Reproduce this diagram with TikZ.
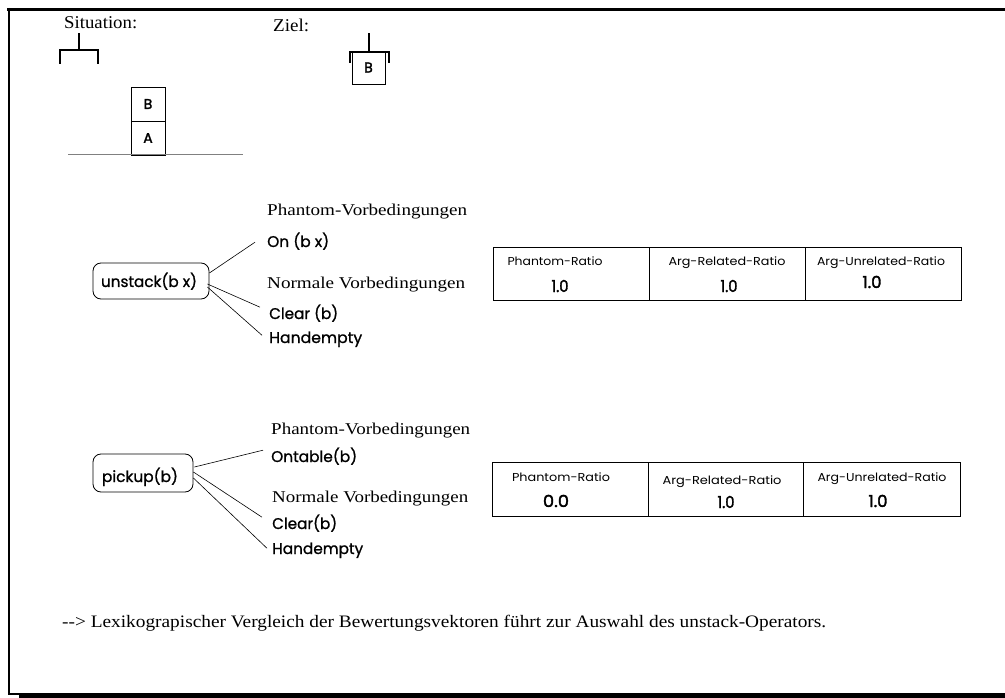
\documentclass[tikz,border=0pt]{standalone}
\usepackage{fontspec}
\usepackage{graphicx}
\setmainfont{Liberation Serif}
\newfontfamily\gothic{Poppins}
\newfontfamily\gothicm{Poppins}[FakeBold=1]
\newfontfamily\gothicb{Poppins}[FakeBold=2]
\usetikzlibrary{calc}
% scale a text horizontally to a given width (in pt), keeping its height
\newcommand\wfit[2]{\resizebox{#1pt}{\height}{#2}}

\begin{document}
\begin{tikzpicture}[x=1pt,y=-1pt,
  serif/.style={inner sep=0pt, anchor=base west, font=\fontsize{16.5}{18}\selectfont},
  title/.style={inner sep=0pt, anchor=base west, font=\fontsize{18}{20}\selectfont},
  cond/.style={inner sep=0pt, anchor=base west, font=\gothicm\fontsize{15.5}{18}\selectfont},
  opbox/.style={draw, rounded corners=8pt, inner sep=0pt, line width=0.8pt},
  optext/.style={inner sep=0pt, anchor=base, font=\gothicm\fontsize{15.5}{18}\selectfont},
  cell/.style={draw, line width=0.8pt, inner sep=0pt},
  head/.style={inner sep=0pt, anchor=base, font=\gothic\fontsize{11.5}{14}\selectfont},
  val/.style={inner sep=0pt, anchor=base, font=\gothicb\fontsize{16.5}{18}\selectfont},
  blk/.style={draw, line width=0.8pt, minimum size=34pt, inner sep=0pt, font=\gothicb\fontsize{14}{15}\selectfont},
  grip/.style={line width=2.2pt},
  link/.style={line width=0.6pt}]

\useasboundingbox (0,0) rectangle (1005,698);

% frame with drop shadow
\draw[line width=3pt] (7,9.5) -- (1005,9.5);
\draw[line width=2.5pt] (9,8) -- (9,695);
\draw[line width=1.5pt] (9,694) -- (20,694);
\fill (19,692.5) rectangle (1005,698);

% ---- situation ----
\node[title] (sit) at (64,29) {\wfit{73}{Situation:}};
\draw[grip] (60,64) -- (60,50) -- (98,50) -- (98,64);
\draw[grip] (79,50) -- (79,33);
\node[blk] (sb) at (148,104) {B};
\node[blk] (sa) at (148,138) {A};
\draw[gray, line width=1pt] (68,155) -- (243,155);

% ---- goal ----
\node[title] (goal) at (273,32) {\wfit{36}{Ziel:}};
\node[blk, minimum size=33pt] (gb) at (368.5,67.5) {B};
\draw[grip] (350,63) -- (350,52) -- (389,52) -- (389,63);
\draw[grip] (369,52) -- (369,33);

% ---- unstack ----
\node[opbox, minimum width=116pt, minimum height=36pt] (ub) at (151,281) {};
\node[optext] (ut) at (149,287) {\wfit{96}{unstack(b x)}};
\node[serif] (uph) at (267,216) {\wfit{200}{Phantom-Vorbedingungen}};
\node[cond] (uon) at (267,247) {\wfit{62}{On (b x)}};
\node[serif] (uno) at (267,288) {\wfit{198}{Normale Vorbedingungen}};
\node[cond] (ucl) at (269,319) {\wfit{69}{Clear (b)}};
\node[cond] (uhe) at (269,343) {\wfit{93}{Handempty}};
\draw[link] ($(ub.east)+(0,-8)$) -- ($(uon.west)+(-12,1)$);
\draw[link] ($(ub.east)+(-2,3)$) -- ($(ucl.west)+(-9,-6)$);
\draw[link] ($(ub.east)+(-2,6)$) -- ($(uhe.west)+(-7,-4)$);

% ---- pickup ----
\node[opbox, minimum width=100pt, minimum height=38pt] (pb) at (143,473) {};
\node[optext] (pt) at (140,482) {\wfit{76}{pickup(b)}};
\node[serif] (pph) at (271,434) {\wfit{199}{Phantom-Vorbedingungen}};
\node[cond] (pon) at (271,462) {\wfit{86}{Ontable(b)}};
\node[serif] (pno) at (272,502) {\wfit{196}{Normale Vorbedingungen}};
\node[cond] (pcl) at (272,529) {\wfit{65}{Clear(b)}};
\node[cond] (phe) at (272,554) {\wfit{91}{Handempty}};
\draw[link] ($(pb.east)+(1,-6)$) -- ($(pon.west)+(-8,-6)$);
\draw[link] ($(pb.east)+(0,-1)$) -- ($(pcl.west)+(-10,-6)$);
\draw[link] ($(pb.east)+(0,5)$) -- ($(phe.west)+(-5,-2)$);

% ---- ratio table for unstack ----
\node[cell, minimum width=156pt, minimum height=53pt] (ua) at (571,273.5) {};
\node[cell, minimum width=156pt, minimum height=53pt] (ubr) at (727,273.5) {};
\node[cell, minimum width=156pt, minimum height=53pt] (uc) at (883,273.5) {};
\node[head] (uah) at (555,265) {\wfit{95}{Phantom-Ratio}};
\node[head] (ubh) at (727,265) {\wfit{117}{Arg-Related-Ratio}};
\node[head] (uch) at (881,265) {\wfit{128}{Arg-Unrelated-Ratio}};
\node[val] (uav) at (560,292) {\wfit{17}{1.0}};
\node[val] (ubv) at (729,292) {\wfit{17}{1.0}};
\node[val] (ucv) at (872,288) {\wfit{19}{1.0}};

% ---- ratio table for pickup ----
\node[cell, minimum width=156pt, minimum height=54pt] (pa) at (570,489) {};
\node[cell, minimum width=155pt, minimum height=54pt] (pbr) at (725.5,489) {};
\node[cell, minimum width=157pt, minimum height=54pt] (pc) at (881.5,489) {};
\node[head] (pah) at (561,481) {\wfit{98}{Phantom-Ratio}};
\node[head] (pbh) at (722,484) {\wfit{119}{Arg-Related-Ratio}};
\node[head] (pch) at (882,481) {\wfit{129}{Arg-Unrelated-Ratio}};
\node[val] (pav) at (556,507) {\wfit{26}{0.0}};
\node[val] (pbv) at (726,508) {\wfit{17}{1.0}};
\node[val] (pcv) at (878,507) {\wfit{19}{1.0}};

% ---- conclusion ----
\node[serif, font=\fontsize{17.5}{20}\selectfont] (concl) at (62,627) {\wfit{764}{-{}-> Lexikograpischer Vergleich der Bewertungsvektoren führt zur Auswahl des unstack-Operators.}};

\end{tikzpicture}
\end{document}
